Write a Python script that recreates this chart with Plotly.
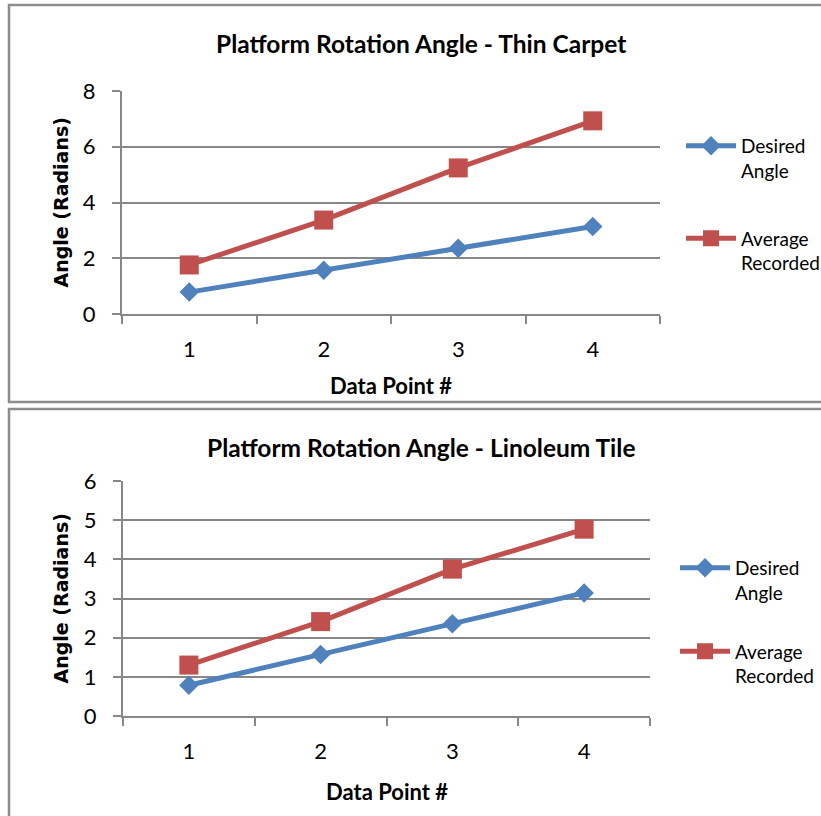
import plotly.graph_objects as go

# Data points and measured platform angles (radians)
data_points = ["1", "2", "3", "4"]
desired_angle = [0.785, 1.571, 2.356, 3.142]
carpet_recorded = [1.76, 3.37, 5.24, 6.93]
tile_recorded = [1.30, 2.41, 3.75, 4.77]

carpet_title = "Platform Rotation Angle - Thin Carpet"
tile_title = "Platform Rotation Angle - Linoleum Tile"
x_title = "Data Point #"
y_title = "Angle (Radians)"

BLUE = "#4F81BD"
RED = "#C0504D"
GRID = "#878787"
FONT = "Lato"

W, H = 821, 816


def px(x):
    return x / W


def py(y):
    return 1 - y / H


fig = go.Figure()

# Top chart: thin carpet
fig.add_trace(go.Scatter(
    x=data_points, y=desired_angle, name="Desired<br>Angle",
    mode="lines+markers", line=dict(color=BLUE, width=5),
    marker=dict(symbol="diamond", size=15, color=BLUE),
    xaxis="x", yaxis="y", legend="legend", legendgroup="a1"))
fig.add_trace(go.Scatter(
    x=data_points, y=carpet_recorded, name="Average<br>Recorded",
    mode="lines+markers", line=dict(color=RED, width=5),
    marker=dict(symbol="square", size=19, color=RED),
    xaxis="x", yaxis="y", legend="legend", legendgroup="a2"))

# Bottom chart: linoleum tile
fig.add_trace(go.Scatter(
    x=data_points, y=desired_angle, name="Desired<br>Angle",
    mode="lines+markers", line=dict(color=BLUE, width=5),
    marker=dict(symbol="diamond", size=15, color=BLUE),
    xaxis="x2", yaxis="y2", legend="legend2", legendgroup="b1"))
fig.add_trace(go.Scatter(
    x=data_points, y=tile_recorded, name="Average<br>Recorded",
    mode="lines+markers", line=dict(color=RED, width=5),
    marker=dict(symbol="square", size=19, color=RED),
    xaxis="x2", yaxis="y2", legend="legend2", legendgroup="b2"))

xcommon = dict(
    type="category", tickson="boundaries", range=[-0.5, 3.5],
    ticks="outside", ticklen=8,
    tickwidth=2, tickcolor=GRID, showline=True, linecolor=GRID, linewidth=2,
    showgrid=False, zeroline=False, ticklabelstandoff=15,
    tickfont=dict(family=FONT, size=22, color="#000000"),
)
ycommon = dict(
    ticks="outside", ticklen=8, tickwidth=2, tickcolor=GRID,
    showline=True, linecolor=GRID, linewidth=2,
    showgrid=True, gridcolor=GRID, gridwidth=2, zeroline=False,
    ticklabelstandoff=12,
    tickfont=dict(family=FONT, size=22, color="#000000"),
)

legend_common = dict(
    font=dict(family=FONT, size=19, color="#000000"),
    bgcolor="rgba(0,0,0,0)", borderwidth=0, valign="top",
    xanchor="left", yanchor="top", itemwidth=50,
)

fig.update_layout(
    width=W, height=H,
    margin=dict(l=0, r=0, t=0, b=0, autoexpand=False),
    paper_bgcolor="white", plot_bgcolor="white",
    xaxis=dict(domain=[px(122), px(660)], anchor="y", **xcommon),
    yaxis=dict(domain=[py(314), py(91)], anchor="x", range=[0, 8],
               dtick=2, **ycommon),
    xaxis2=dict(domain=[px(123), px(650)], anchor="y2", **xcommon),
    yaxis2=dict(domain=[py(716), py(481)], anchor="x2", range=[0, 6],
                dtick=1, **ycommon),
    legend=dict(x=px(681), y=py(127), tracegroupgap=40, **legend_common),
    legend2=dict(x=px(675), y=py(549), tracegroupgap=31, **legend_common),
    showlegend=True,
)

# Chart frames
for y0, y1 in [(5, 402), (409, 830)]:
    fig.add_shape(type="rect", xref="paper", yref="paper",
                  x0=px(9), x1=px(830), y0=py(y1), y1=py(y0),
                  line=dict(color="#8C8C8C", width=2.5), layer="below")

# Titles and axis titles
for title, ty, xl, xr, xty, yl, yr in [
    (carpet_title, 43, 122, 660, 385, 91, 314),
    (tile_title, 447, 123, 650, 791, 481, 716),
]:
    fig.add_annotation(text="<b>%s</b>" % title, xref="paper", yref="paper",
                       x=px(421), y=py(ty), showarrow=False,
                       xanchor="center", yanchor="middle",
                       font=dict(family=FONT, size=24.5, color="#000000"))
    fig.add_annotation(text="<b>%s</b>" % x_title, xref="paper", yref="paper",
                       x=px((xl + xr) / 2), y=py(xty), showarrow=False,
                       xanchor="center", yanchor="middle",
                       font=dict(family=FONT, size=22, color="#000000"))
    fig.add_annotation(text="<b>%s</b>" % y_title, xref="paper", yref="paper",
                       x=px(60), y=py((yl + yr) / 2), showarrow=False,
                       xanchor="center", yanchor="middle", textangle=-90,
                       font=dict(family="DejaVu Sans", size=19,
                                 color="#000000"))

fig.write_html("out.html")
